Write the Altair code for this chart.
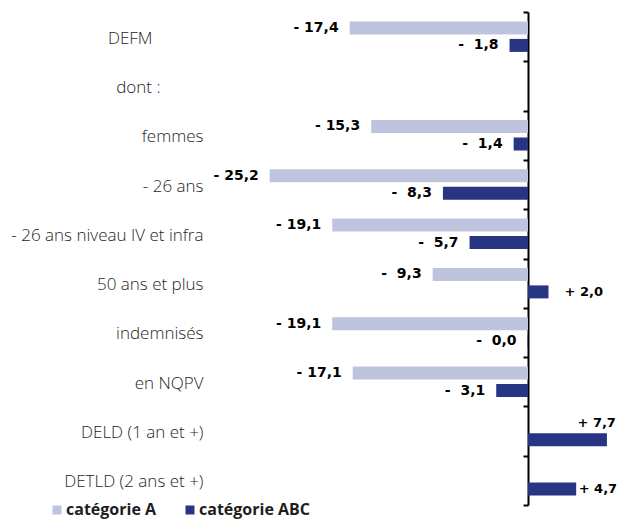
import altair as alt
import pandas as pd

categories = ["DEFM", "dont :", "femmes", "- 26 ans", "- 26 ans niveau IV et infra",
              "50 ans et plus", "indemnisés", "en NQPV", "DELD (1 an et +)", "DETLD (2 ans et +)"]
series = ["catégorie A", "catégorie ABC"]
cat_a = [-17.4, None, -15.3, -25.2, -19.1, -9.3, -19.1, -17.1, None, None]
cat_abc = [-1.8, None, -1.4, -8.3, -5.7, 2.0, -0.04, -3.1, 7.7, 4.7]
colors = ["#BEC3DE", "#283583"]

NB = "\u00a0"


def fmt(v):
    sign = "-" if v < 0 else "+"
    a = abs(v)
    s = f"{a:.1f}".replace(".", ",")
    pad = NB + NB if (a < 10 and v < 0) else NB
    return sign + pad + s


rows = []
for i, c in enumerate(categories):
    for s, vals in zip(series, [cat_a, cat_abc]):
        v = vals[i]
        if v is None:
            continue
        rows.append({"cat": c, "series": s, "value": v, "label": fmt(v)})
df = pd.DataFrame(rows)

W, H = 407, 493
ZERO_PX = 318
PXU = 10.25
x_domain = [-ZERO_PX / PXU, (W - ZERO_PX) / PXU]

LP = 320  # label padding: right-aligned labels end just left of the plot
label_padding = {
    "condition": [
        {"test": "datum.value === 'DEFM'", "value": LP + 51},
        {"test": "datum.value === 'dont :'", "value": LP + 43},
    ],
    "value": LP,
}

y_enc = alt.Y(
    "cat:N",
    sort=categories,
    scale=alt.Scale(domain=categories, paddingInner=0, paddingOuter=0),
    axis=alt.Axis(
        title=None, orient="left", offset=-ZERO_PX,
        domain=True, domainColor="black", domainWidth=2,
        ticks=True, tickBand="extent", tickSize=5, tickColor="black", tickWidth=2,
        labelPadding=label_padding, labelFont="Open Sans", labelFontSize=17, labelFontWeight=300,
        labelColor="#1e1e1e", labelOffset=1.5, labelLimit=400,
    ),
)
yoff = alt.YOffset("series:N", scale=alt.Scale(domain=series, paddingInner=0.257, paddingOuter=0.537))
x_enc = alt.X("value:Q", scale=alt.Scale(domain=x_domain, nice=False, zero=False), axis=None)

base = alt.Chart(df)

bars = base.mark_bar().encode(
    y=y_enc, yOffset=yoff, x=x_enc,
    color=alt.Color(
        "series:N",
        scale=alt.Scale(domain=series, range=colors),
        legend=alt.Legend(
            title=None, orient="none", legendX=-161, legendY=490, direction="horizontal",
            symbolType="square", symbolSize=81, symbolStrokeWidth=0,
            labelFont="Open Sans", labelFontWeight="bold", labelFontSize=16, labelColor="#1e1e1e",
            labelOffset=1, columnPadding=25, padding=0,
        ),
    ),
)

neg_style = dict(font="DejaVu Sans", fontWeight="bold", fontSize=14, color="black")
pos_style = dict(font="DejaVu Sans", fontWeight="bold", fontSize=13, color="black")
y_plain = alt.Y("cat:N", sort=categories)

neg = base.transform_filter("datum.value < 0").mark_text(align="right", dx=-11, **neg_style).encode(
    y=y_plain, yOffset=yoff, x=x_enc, text="label:N")
pos_small = base.transform_filter("datum.value > 0 && datum.value < 4").mark_text(align="left", dx=16, **pos_style).encode(
    y=y_plain, yOffset=yoff, x=x_enc, text="label:N")
pos_mid = base.transform_filter("datum.value >= 4 && datum.value < 7").mark_text(align="left", dx=2.5, **pos_style).encode(
    y=y_plain, yOffset=yoff, x=x_enc, text="label:N")
pos_big = base.transform_filter("datum.value >= 7").mark_text(align="right", dx=9, dy=-17, **pos_style).encode(
    y=y_plain, yOffset=yoff, x=x_enc, text="label:N")

chart = alt.layer(bars, neg, pos_small, pos_mid, pos_big).properties(
    width=W, height=H,
    background="white",
    autosize=alt.AutoSizeParams(type="none"),
    padding={"left": 202, "top": 4, "right": 0, "bottom": 15},
).configure_view(strokeWidth=0)

chart.save("out.html", embed_options={"renderer": "svg", "actions": False})
